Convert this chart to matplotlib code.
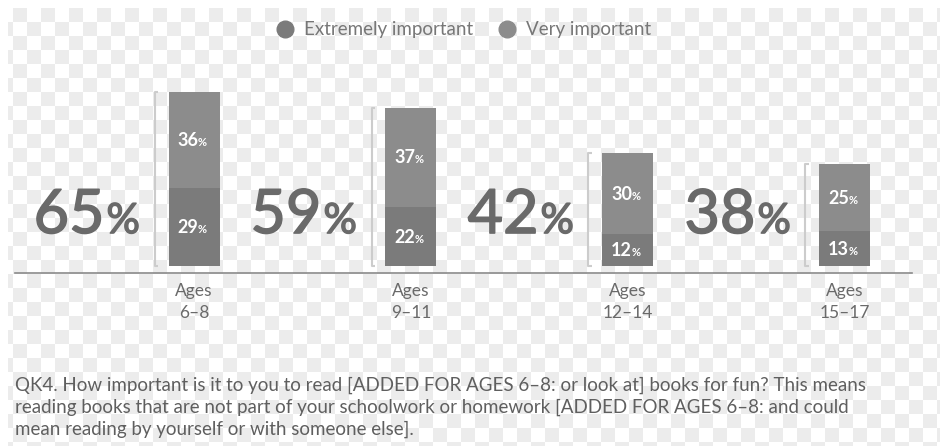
import matplotlib
matplotlib.use("Agg")
import matplotlib.pyplot as plt
import matplotlib.patheffects as pe
import numpy as np
from matplotlib.lines import Line2D

plt.rcParams['font.family'] = ['Lato', 'DejaVu Sans']

# survey results, % of kids
age_groups = ["Ages\n6\u20138", "Ages\n9\u201311", "Ages\n12\u201314", "Ages\n15\u201317"]
extremely = [29, 22, 12, 13]
very = [36, 37, 30, 25]
totals = [65, 59, 42, 38]

legend_labels = ["Extremely important", "Very important"]
footnote = ("QK4. How important is it to you to read [ADDED FOR AGES 6\u20138: or look at] books for fun? This means\n"
            "reading books that are not part of your schoolwork or homework [ADDED FOR AGES 6\u20138: and could\n"
            "mean reading by yourself or with someone else].")

c_extremely = '#7b7b7b'
c_very = '#8c8c8c'
text_grey = '#6a6a6a'

fig = plt.figure(figsize=(9.4, 4.46), dpi=100)

# faint checker backdrop
bg = fig.add_axes([0, 0, 1, 1], zorder=-10)
yy, xx = np.mgrid[0:446, 0:940]
checker = ((((xx - 13) // 14) + ((yy - 8) // 14)) % 2).astype(float)
checker[(xx < 8) | (yy < 8)] = 1
bg.imshow(checker, cmap='gray', vmin=-12, vmax=1, extent=(0, 940, 446, 0),
          interpolation='nearest', aspect='auto')
bg.axis('off')

ax = fig.add_axes([15 / 940, (446 - 273) / 446, (912 - 15) / 940, (273 - 78.4) / 446])
ax.patch.set_alpha(0)
ax.set_xlim(-0.825, 3.309)
ax.set_ylim(-2.6, 70)
for side in ['top', 'left', 'right']:
    ax.spines[side].set_visible(False)
ax.spines['bottom'].set_color('#8a8a8a')
ax.spines['bottom'].set_linewidth(1.2)
ax.set_xticks([])
ax.set_yticks([])

x = np.arange(len(age_groups))
w = 0.235
ax.bar(x, extremely, width=w, color=c_extremely, zorder=2)
ax.bar(x, very, width=w, bottom=extremely, color=c_very, zorder=2)

thicken = [pe.withStroke(linewidth=1.1, foreground=text_grey)]

for i in range(len(x)):
    left = x[i] - w / 2

    # segment labels
    for val, mid in [(extremely[i], extremely[i] / 2), (very[i], extremely[i] + very[i] / 2)]:
        ax.annotate(str(val), (x[i], mid), xytext=(4, -6), textcoords='offset pixels',
                    ha='right', va='baseline', color='white', fontsize=13, fontweight='bold')
        ax.annotate('%', (x[i], mid), xytext=(4, -6), textcoords='offset pixels',
                    ha='left', va='baseline', color='white', fontsize=8, fontweight='bold')

    # bracket next to the bar
    xb = left - 0.0645
    t = 0.018
    ax.plot([xb + t, xb, xb, xb + t], [0, 0, totals[i], totals[i]],
            color='#cccccc', lw=1.5, solid_capstyle='butt', zorder=1)

    # big total
    ax.annotate(str(totals[i]), (left, 12.3), xytext=(-64, 0), textcoords='offset pixels',
                ha='right', va='baseline', color=text_grey, fontsize=44, path_effects=thicken)
    ax.annotate('%', (left, 12.3), xytext=(-62, 0), textcoords='offset pixels',
                ha='left', va='baseline', color=text_grey, fontsize=30, path_effects=thicken)

    ax.annotate(age_groups[i], (x[i], -2.6), xytext=(0, -10), textcoords='offset pixels',
                ha='center', va='top', color=text_grey, fontsize=12.5, linespacing=1.45)

handles = [Line2D([], [], marker='o', ls='', markersize=12, color=c)
           for c in [c_extremely, c_very]]
fig.legend(handles, legend_labels, loc='center', bbox_to_anchor=(0.493, 0.933), ncol=2,
           frameon=False, fontsize=13.5, labelcolor='#777777', handlelength=1.0,
           handletextpad=0.5, columnspacing=1.3)

fig.text(15 / 940, 1 - 377 / 446, footnote, ha='left', va='top', color='#5f5f5f',
         fontsize=13.5, linespacing=1.32)

fig.savefig('out.png', dpi=100)
